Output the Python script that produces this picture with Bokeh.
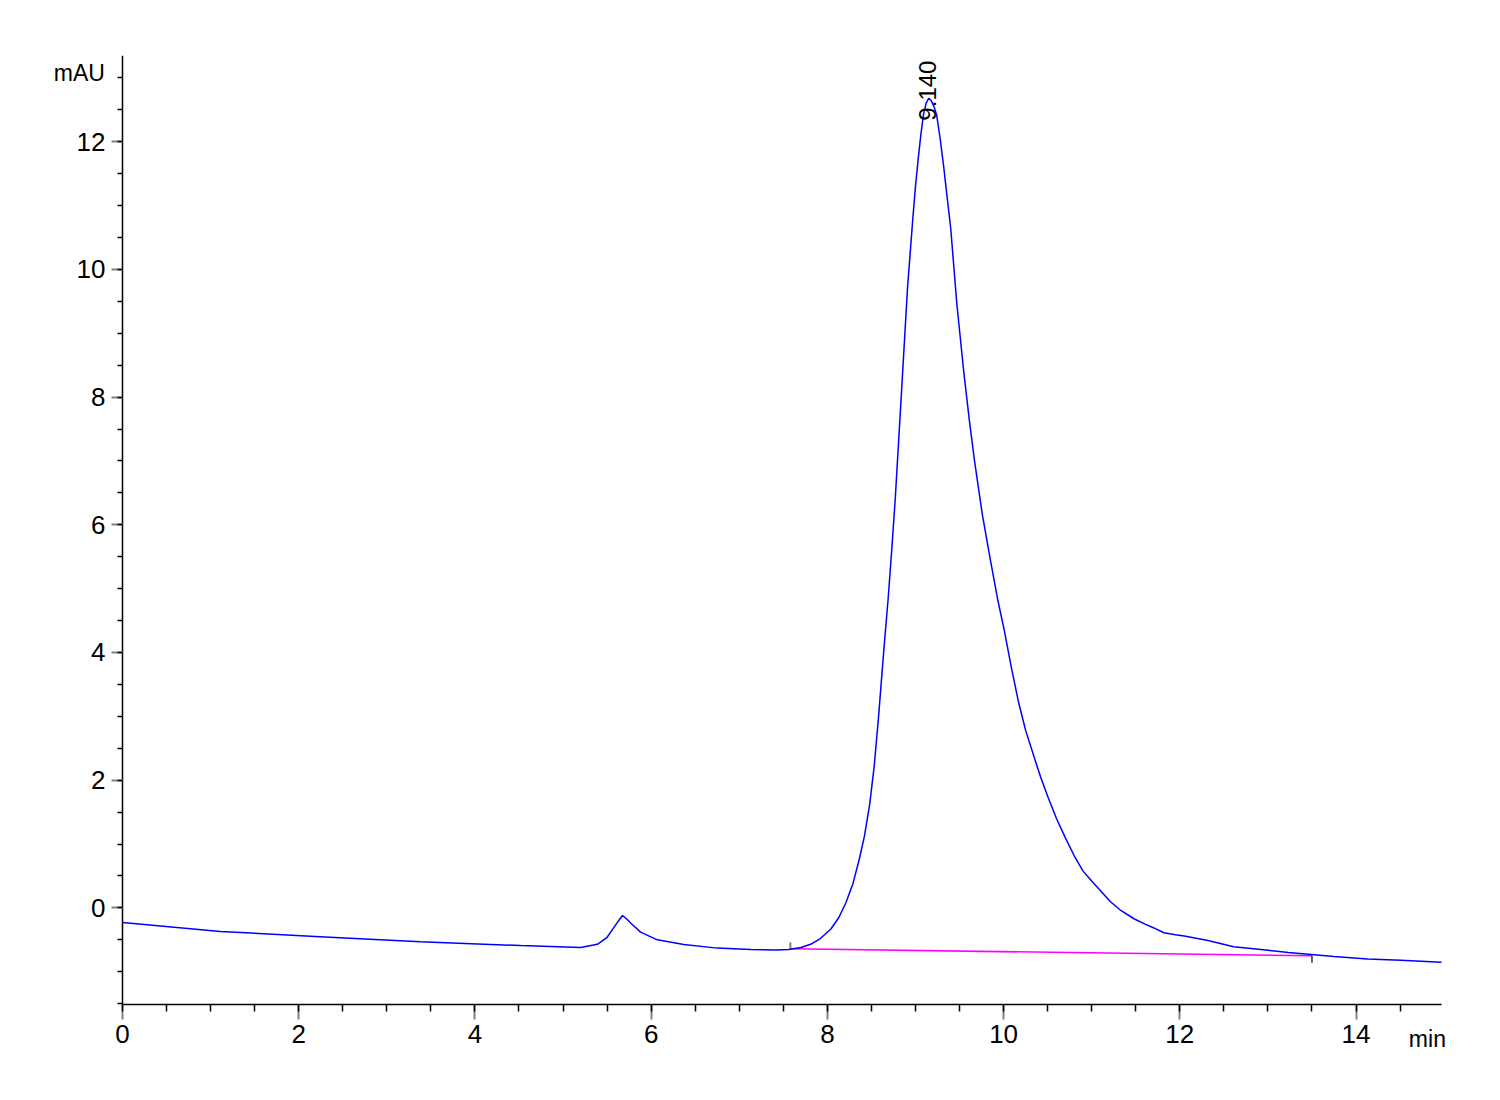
from bokeh.plotting import figure
from bokeh.models import SingleIntervalTicker, Range1d
from bokeh.core.properties import value
from bokeh.embed import file_html
from bokeh.resources import INLINE

# chromatogram trace (min, mAU)
time_min = [0.00, 1.11, 2.24, 3.38, 4.52, 5.20, 5.39, 5.50, 5.57, 5.63, 5.675, 5.72, 5.77,
            5.88, 6.07, 6.37, 6.75, 7.13, 7.43, 7.56, 7.70, 7.81, 7.92, 8.04, 8.13, 8.21, 8.29,
            8.36, 8.42, 8.48, 8.53, 8.58, 8.64, 8.69, 8.73, 8.77, 8.84, 8.91, 8.97, 9.00, 9.03,
            9.06, 9.09, 9.12, 9.15, 9.18, 9.21, 9.24, 9.28, 9.32, 9.36, 9.40, 9.47, 9.55, 9.61,
            9.67, 9.76, 9.85, 9.93, 10.01, 10.09, 10.17, 10.25, 10.34, 10.42, 10.50, 10.60,
            10.70, 10.80, 10.90, 11.00, 11.10, 11.21, 11.33, 11.48, 11.60, 11.70, 11.82, 11.95,
            12.05, 12.20, 12.32, 12.61, 12.92, 13.23, 13.49, 13.75, 14.13, 14.51, 14.97]
signal_mau = [-0.23, -0.37, -0.45, -0.53, -0.59, -0.62, -0.57, -0.46, -0.32, -0.20, -0.12, -0.17,
              -0.24, -0.38, -0.50, -0.575, -0.63, -0.65, -0.66, -0.65, -0.62, -0.57, -0.48, -0.33,
              -0.15, 0.08, 0.38, 0.75, 1.12, 1.62, 2.20, 2.98, 4.03, 4.85, 5.60, 6.40, 8.05, 9.72,
              10.80, 11.30, 11.72, 12.10, 12.42, 12.60, 12.68, 12.64, 12.55, 12.42, 12.05, 11.61,
              11.12, 10.64, 9.45, 8.37, 7.65, 7.00, 6.15, 5.45, 4.85, 4.33, 3.75, 3.22, 2.78, 2.39,
              2.05, 1.75, 1.40, 1.10, 0.82, 0.58, 0.42, 0.27, 0.10, -0.04, -0.17, -0.25, -0.31,
              -0.39, -0.42, -0.44, -0.48, -0.51, -0.61, -0.65, -0.70, -0.73, -0.76, -0.80, -0.82,
              -0.85]

# integration baseline
baseline_x = [7.58, 13.50]
baseline_y = [-0.64, -0.75]

peak_time = 9.14
peak_label = "9.140"
peak_label_y = 12.33

x_unit = "min"
y_unit = "mAU"

X_MIN, X_MAX = 0.0, 14.97
Y_MIN, Y_MAX = -1.52, 13.35

FONT = "Liberation Sans"

p = figure(frame_width=1430, frame_height=1005, output_backend="svg", toolbar_location=None,
           x_range=Range1d(-0.84, 15.39), y_range=Range1d(-2.39, Y_MAX))
p.min_border_left = 48
p.min_border_right = 10
p.min_border_top = 55
p.min_border_bottom = 20
p.outline_line_color = None
p.xgrid.visible = False
p.ygrid.visible = False
p.background_fill_color = "white"
p.border_fill_color = "white"

for ax in (p.xaxis[0], p.yaxis[0]):
    ax.ticker = SingleIntervalTicker(interval=2, num_minor_ticks=4)
    ax.axis_line_color = "black"
    ax.axis_line_width = 1.5
    ax.major_tick_line_color = "#808080"
    ax.major_tick_line_width = 2
    ax.minor_tick_line_color = "black"
    ax.minor_tick_line_width = 1.5
    ax.major_tick_in = 0
    ax.minor_tick_in = 0
    ax.major_label_text_font = FONT
    ax.major_label_text_font_size = "26px"
    ax.major_label_text_color = "black"

p.xaxis[0].fixed_location = Y_MIN
p.xaxis[0].bounds = (X_MIN, X_MAX)
p.yaxis[0].fixed_location = X_MIN
p.yaxis[0].bounds = (Y_MIN, Y_MAX)

p.xaxis[0].major_tick_out = 15
p.xaxis[0].minor_tick_out = 7
p.xaxis[0].major_label_standoff = 5
p.yaxis[0].major_tick_out = 11
p.yaxis[0].minor_tick_out = 5
p.yaxis[0].major_label_standoff = 6

# integration baseline and its end markers
p.line(baseline_x, baseline_y, line_color="#FF00FF", line_width=1.6)
p.segment(x0=baseline_x[:1], y0=baseline_y[:1], x1=baseline_x[:1],
          y1=[baseline_y[0] + 0.1], line_color="#808080", line_width=2)
p.segment(x0=baseline_x[1:], y0=baseline_y[1:], x1=baseline_x[1:],
          y1=[baseline_y[1] - 0.11], line_color="black", line_width=1.2)

# trace
p.line(time_min, signal_mau, line_color="#0000FF", line_width=1.5)

# peak label
p.text(x=[peak_time], y=[peak_label_y], text=[peak_label], angle=1.5708,
       text_align="left", text_baseline="middle", text_font=value(FONT),
       text_font_size="24px", text_color="black")

# unit labels
p.text(x=[-0.2], y=[13.07], text=[y_unit], text_align="right", text_baseline="middle",
       text_font=value(FONT), text_font_size="23px", text_color="black")
p.text(x=[14.81], y=[-2.05], text=[x_unit], text_align="center", text_baseline="middle",
       text_font=value(FONT), text_font_size="23px", text_color="black")

open("out.html", "w").write(file_html(p, INLINE))
